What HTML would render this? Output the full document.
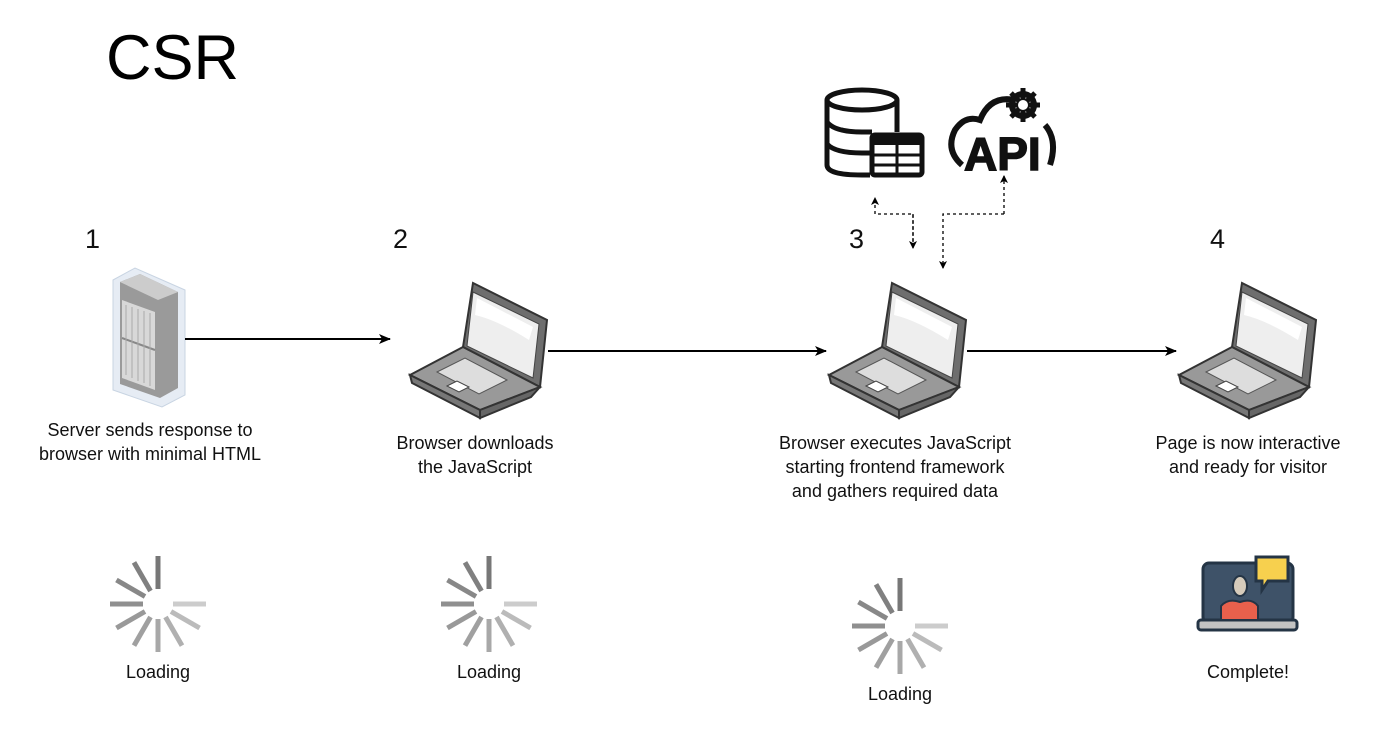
<!DOCTYPE html>
<html><head><style>
body{margin:0;width:1394px;height:729px;background:#fff;font-family:"Liberation Sans",sans-serif;position:relative;overflow:hidden}
.t{position:absolute;color:#111;text-align:center;font-size:18px;line-height:24px;white-space:nowrap}
.n{position:absolute;font-size:27px;color:#111}
</style></head><body>
<div style="position:absolute;left:106px;top:22px;font-size:63px;color:#000">CSR</div>
<div class="n" style="left:85px;top:224px">1</div>
<div class="n" style="left:393px;top:224px">2</div>
<div class="n" style="left:849px;top:224px">3</div>
<div class="n" style="left:1210px;top:224px">4</div>
<div class="t" style="left:0;width:300px;top:418px">Server sends response to<br>browser with minimal HTML</div>
<div class="t" style="left:355px;width:240px;top:431px">Browser downloads<br>the JavaScript</div>
<div class="t" style="left:745px;width:300px;top:431px">Browser executes JavaScript<br>starting frontend framework<br>and gathers required data</div>
<div class="t" style="left:1098px;width:300px;top:431px">Page is now interactive<br>and ready for visitor</div>
<div class="t" style="left:108px;width:100px;top:660px">Loading</div>
<div class="t" style="left:439px;width:100px;top:660px">Loading</div>
<div class="t" style="left:850px;width:100px;top:682px">Loading</div>
<div class="t" style="left:1188px;width:120px;top:660px">Complete!</div>
<svg width="1394" height="729" style="position:absolute;left:0;top:0">
<defs>
<marker id="a" markerWidth="12" markerHeight="10" refX="11" refY="5" orient="auto" markerUnits="userSpaceOnUse"><path d="M0,0L12,5L0,10L3,5z" fill="#000"/></marker>
<marker id="s" markerWidth="8" markerHeight="8" refX="7" refY="4" orient="auto" markerUnits="userSpaceOnUse"><path d="M0,0L8,4L0,8L2,4z" fill="#000"/></marker>
<g id="lap">
<path d="M56,67L66,3L140,40L133,107Z" fill="#6e6e6e" stroke="#333" stroke-width="2"/>
<path d="M66,12L132,44L126,98L60,66Z" fill="#eee" stroke="#444"/>
<path d="M70,18L126,47L122,60Q90,40 68,35Z" fill="#fff"/>
<path d="M3,95L56,67L133,107L73,130Z" fill="#999" stroke="#333" stroke-width="2"/>
<path d="M3,95L73,130L73,138L5,103Z" fill="#777" stroke="#333" stroke-width="2"/>
<path d="M73,130L133,107L124,117L73,138Z" fill="#666" stroke="#333" stroke-width="2"/>
<path d="M30,92L58,78L100,100L72,114Z" fill="#ddd" stroke="#555"/>
<path d="M40,106L50,101L62,107L52,112Z" fill="#fff" stroke="#444"/>
</g>
<g id="sp">
<g stroke-width="5">
<line x1="0" y1="-15" x2="0" y2="-48" stroke="#777"/>
<line transform="rotate(-30)" x1="0" y1="-15" x2="0" y2="-48" stroke="#808080"/>
<line transform="rotate(-60)" x1="0" y1="-15" x2="0" y2="-48" stroke="#888"/>
<line transform="rotate(-90)" x1="0" y1="-15" x2="0" y2="-48" stroke="#8f8f8f"/>
<line transform="rotate(-120)" x1="0" y1="-15" x2="0" y2="-48" stroke="#999"/>
<line transform="rotate(-150)" x1="0" y1="-15" x2="0" y2="-48" stroke="#a0a0a0"/>
<line transform="rotate(180)" x1="0" y1="-15" x2="0" y2="-48" stroke="#a8a8a8"/>
<line transform="rotate(150)" x1="0" y1="-15" x2="0" y2="-48" stroke="#b0b0b0"/>
<line transform="rotate(120)" x1="0" y1="-15" x2="0" y2="-48" stroke="#bbb"/>
<line transform="rotate(90)" x1="0" y1="-15" x2="0" y2="-48" stroke="#ccc"/>
</g></g>
</defs>
<path d="M113,280L135,268L185,290L185,395L162,407L113,390Z" fill="#e6ecf4" stroke="#c8d4e2"/>
<path d="M120,282L140,274L178,292L178,388L160,398L120,384Z" fill="#9a9a9a"/>
<path d="M120,282L140,274L178,292L158,300Z" fill="#ccc"/>
<path d="M122,300L155,312L155,390L122,378Z" fill="#d8d8d8"/>
<path d="M122,338L155,350" stroke="#888" stroke-width="2"/>
<g stroke="#aaa" stroke-width="1"><path d="M126,305V375M132,307V378M138,309V381M144,311V383M150,313V386"/></g>
<line x1="185" y1="339" x2="390" y2="339" stroke="#000" stroke-width="2" marker-end="url(#a)"/>
<line x1="548" y1="351" x2="826" y2="351" stroke="#000" stroke-width="2" marker-end="url(#a)"/>
<line x1="967" y1="351" x2="1176" y2="351" stroke="#000" stroke-width="2" marker-end="url(#a)"/>
<use href="#lap" x="407" y="280"/>
<use href="#lap" x="826" y="280"/>
<use href="#lap" x="1176" y="280"/>
<g fill="none" stroke="#000" stroke-width="1.3" stroke-dasharray="3,3">
<path d="M913,248V214H875V198" marker-end="url(#s)"/>
<path d="M913,214V248" marker-end="url(#s)"/>
<path d="M1004,214V176" marker-end="url(#s)"/>
<path d="M1004,214H943V268" marker-end="url(#s)"/>
</g>
<g fill="none" stroke="#111" stroke-width="5">
<ellipse cx="862" cy="100" rx="35" ry="10"/>
<path d="M827,100V165Q827,175 862,175H870M897,100V132M827,122Q835,132 862,132H872M827,144Q835,153 862,153H870"/>
<rect x="872" y="135" width="50" height="40" rx="3"/>
</g>
<rect x="872" y="135" width="50" height="10" fill="#111"/>
<g stroke="#111" stroke-width="3"><path d="M872,155H922M872,165H922M897,145V175"/></g>
<path d="M962,165Q945,150 955,130Q965,115 980,120Q990,95 1015,100" fill="none" stroke="#111" stroke-width="6"/>
<path d="M1045,125Q1058,140 1050,165" fill="none" stroke="#111" stroke-width="6"/>
<circle cx="1023" cy="105" r="11" fill="none" stroke="#111" stroke-width="6"/>
<g stroke="#111" stroke-width="5"><path d="M1023,88V122M1006,105H1040M1011,93L1035,117M1035,93L1011,117"/></g>
<circle cx="1023" cy="105" r="5" fill="#fff"/>
<text x="964" y="170" font-family="Liberation Sans" font-weight="bold" font-size="46" fill="#111" stroke="#111" stroke-width="1.5">API</text>
<use href="#sp" x="158" y="604"/>
<use href="#sp" x="489" y="604"/>
<use href="#sp" x="900" y="626"/>
<rect x="1203" y="563" width="90" height="60" rx="6" fill="#3e5268" stroke="#243445" stroke-width="3"/>
<rect x="1198" y="620" width="99" height="10" rx="3" fill="#c3c3c3" stroke="#243445" stroke-width="3"/>
<path d="M1256,557H1288V581H1268L1262,590V581H1256Z" fill="#f7d04e" stroke="#243445" stroke-width="3"/>
<ellipse cx="1240" cy="586" rx="7" ry="10" fill="#d6cbbb" stroke="#243445" stroke-width="2"/>
<path d="M1221,620V606Q1228,598 1240,602Q1252,598 1258,606V620Z" fill="#e8604c" stroke="#243445" stroke-width="2"/>
</svg>
</body></html>
